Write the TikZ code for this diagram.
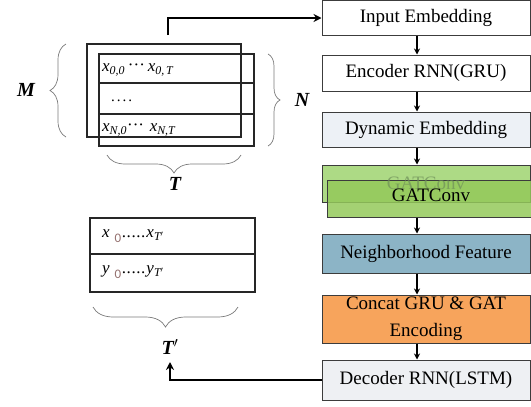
\documentclass[tikz,border=0pt]{standalone}
\usepackage{fontspec}
\setmainfont{Liberation Serif}
\newfontfamily\subfont{Carlito}
\usetikzlibrary{arrows.meta,decorations.pathreplacing}
\definecolor{bordc}{HTML}{3C3C3C}
\definecolor{dynfill}{HTML}{EDF1F6}
\definecolor{decfill}{HTML}{EEF0F3}
\definecolor{gatback}{HTML}{ADDA85}
\definecolor{gatfront}{HTML}{94C95A}
\definecolor{gattext}{HTML}{6F8F5A}
\definecolor{neifill}{HTML}{8CB4C6}
\definecolor{catfill}{HTML}{F7A45C}
\definecolor{subc}{HTML}{94706E}
\definecolor{bracec}{HTML}{7A7A7A}
\newcommand{\zerosub}{\raisebox{-4.5pt}{\fontsize{13}{13}\selectfont\subfont\upshape\textcolor{subc}{0}}}
\newcommand{\lowdots}{.\kern0.6pt.\kern0.6pt.\kern0.6pt.\kern0.6pt.}
\tikzset{
  box/.style={draw=bordc, line width=1pt, minimum width=208pt, minimum height=35pt, inner sep=0pt,
    font=\fontsize{19}{22}\selectfont},
  flowarrow/.style={-{Stealth[length=6pt,width=6pt]}, line width=1.2pt},
  bigarrow/.style={-{Stealth[length=8pt,width=8pt]}, line width=2pt},
  grid/.style={draw=black!85, line width=1.4pt},
  curly/.style={decorate, decoration={brace, amplitude=#1}, draw=bracec, line width=0.7pt},
  biglabel/.style={font=\fontsize{20}{22}\selectfont\bfseries\itshape},
  cell/.style={anchor=west, inner sep=0pt, font=\fontsize{17}{19}\selectfont\itshape},
}
\begin{document}
\begin{tikzpicture}[x=1pt,y=-1pt]
\useasboundingbox (0,0) rectangle (531,407);

% right column
\node[box, fill=white] (inp) at (426,18) {Input Embedding};
\node[box, fill=white, minimum height=36pt] (enc) at (426,73) {Encoder RNN(GRU)};
\node[box, fill=dynfill] (dyn) at (426,129.5) {Dynamic Embedding};
\node[box, fill=gatback, minimum height=37pt] (gatb) at (426,183.5) {};
\node[box, fill=gatfront, fill opacity=0.85, text opacity=1, minimum height=37pt] (gatf) at (431,198.5) {};
\node[inner sep=0pt, font=\fontsize{19}{22}\selectfont, text=gattext, text opacity=0.7] (gatbt) at (gatb.center) {GATConv};
\node[inner sep=0pt, font=\fontsize{19}{22}\selectfont] (gatft) at ([yshift=3pt]gatf.center) {GATConv};
\node[box, fill=neifill, minimum height=39pt] (nei) at (426,253.5) {Neighborhood Feature};
\node[box, fill=catfill, minimum height=48pt, align=center, font=\fontsize{19}{27}\selectfont] (cat) at (426,319) {Concat GRU \& GAT\\ Encoding};
\node[box, fill=decfill, minimum height=40pt] (dec) at (426,380) {Decoder RNN(LSTM)};

\coordinate (ax) at (417,0);
\draw[flowarrow] (inp.south -| ax) -- (enc.north -| ax);
\draw[flowarrow] (enc.south -| ax) -- (dyn.north -| ax);
\draw[flowarrow] (dyn.south -| ax) -- (gatb.north -| ax);
\draw[flowarrow] (gatf.south -| ax) -- (nei.north -| ax);
\draw[flowarrow] (nei.south -| ax) -- (cat.north -| ax);
\draw[flowarrow] (cat.south -| ax) -- (dec.north -| ax);

% input tensor
\draw[grid] (87,44) rectangle (241,137);
\draw[grid] (99,54) rectangle (254,146);
\draw[grid] (99,83) -- (254,83);
\draw[grid] (99,114) -- (254,114);
\node[cell] (r1) at (102,70) {x\textsubscript{0,0}\,{\upshape\raisebox{1pt}{···}}\,x\textsubscript{0,\,T}};
\node[cell, font=\fontsize{15}{17}\selectfont] (r2) at (111,101) {.\kern2pt.\kern2pt.\kern2pt.};
\node[cell] (r3) at (102,130) {x\textsubscript{N,0}{\upshape\raisebox{1pt}{···}}\,\,x\textsubscript{N,T}};

\draw[curly=16pt] (66,137) -- (66,44);
\node[biglabel] (M) at (26,90) {M};
\draw[curly=12pt] (268,54) -- (268,146);
\node[biglabel] (N) at (302,100) {N};
\draw[curly=18pt] (241,155) -- (107,155);
\node[biglabel] (T) at (175,184) {T};

\coordinate (start) at (168,35);
\draw[bigarrow] (start) |- (inp.west);

% output tensor
\draw[grid] (90,218) rectangle (255,292);
\draw[grid] (90,254) -- (255,254);
\node[cell] (o1) at (102,236) {x\kern5pt\zerosub\kern0.5pt{\upshape\lowdots}\kern1pt x\textsubscript{T\ensuremath{'}}};
\node[cell] (o2) at (102,272) {y\kern5pt\zerosub\kern0.5pt{\upshape\lowdots}\kern1pt y\textsubscript{T\ensuremath{'}}};
\draw[curly=20pt] (238,307) -- (93,307);
\node[biglabel] (Tp) at (170,347) {T\ensuremath{'}};

\coordinate (endp) at (170,362);
\draw[bigarrow] (dec.west) -| (endp);
\end{tikzpicture}
\end{document}
